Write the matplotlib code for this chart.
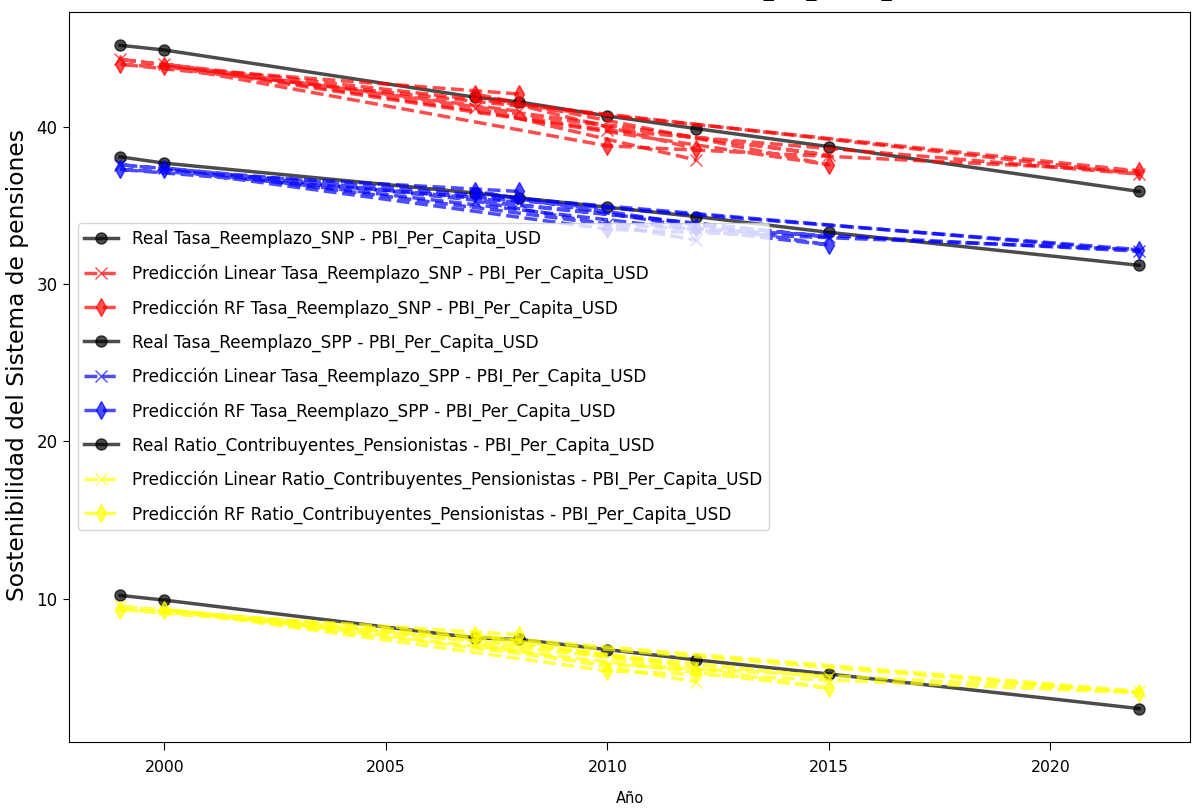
import numpy as np
import matplotlib.pyplot as plt

# años en el orden del set de prueba (sin ordenar)
anios = [2008, 1999, 2022, 2010, 2000, 2015, 2007, 2012]

# valores, mismo orden que anios
real_snp = [41.6, 45.2, 35.9, 40.7, 44.9, 38.75, 41.9, 39.9]
lin_snp = [41.0, 44.3, 37.0, 39.8, 44.0, 38.2, 41.2, 37.9]
rf_snp = [42.1, 44.0, 37.2, 38.8, 43.9, 37.6, 42.1, 38.6]

real_spp = [35.5, 38.1, 31.2, 34.9, 37.7, 33.3, 35.8, 34.3]
lin_spp = [35.2, 37.6, 32.1, 33.8, 37.4, 33.0, 35.3, 32.8]
rf_spp = [35.9, 37.3, 32.2, 33.5, 37.3, 32.5, 35.9, 33.6]

real_ratio = [7.4, 10.2, 3.0, 6.75, 9.9, 5.2, 7.5, 6.1]
lin_ratio = [7.0, 9.5, 4.1, 5.8, 9.3, 5.0, 7.1, 4.7]
rf_ratio = [7.7, 9.3, 4.0, 5.4, 9.3, 4.3, 7.7, 5.3]

targets = ['Tasa_Reemplazo_SNP', 'Tasa_Reemplazo_SPP', 'Ratio_Contribuyentes_Pensionistas']
feature = 'PBI_Per_Capita_USD'
colores = ['red', 'blue', 'yellow']

reales = [real_snp, real_spp, real_ratio]
lineales = [lin_snp, lin_spp, lin_ratio]
rfs = [rf_snp, rf_spp, rf_ratio]

fig = plt.figure(figsize=(11.93, 8.08), dpi=100)
ax = fig.add_axes([0.058, 0.082, 0.9395, 0.903])

real_orden = np.argsort(anios)
x = np.array(anios)

for t, c, yr, yl, yf in zip(targets, colores, reales, lineales, rfs):
    yr = np.array(yr)
    ax.plot(x[real_orden], yr[real_orden], marker='o', color='black', alpha=0.7,
            linewidth=2.5, markersize=8, label=f'Real {t} - {feature}')
    ax.plot(x, yl, marker='x', linestyle='--', color=c, alpha=0.7,
            linewidth=2.5, markersize=8, label=f'Predicción Linear {t} - {feature}')
    ax.plot(x, yf, marker='d', linestyle='--', color=c, alpha=0.7,
            linewidth=2.5, markersize=9, label=f'Predicción RF {t} - {feature}')

ax.tick_params(axis='x', labelsize=11.3, length=5.5, pad=8)
ax.tick_params(axis='y', labelsize=12, length=4.5, pad=4)
ax.set_xlabel('Año', fontsize=10.5, labelpad=11)
ax.set_ylabel('Sostenibilidad del Sistema de pensiones', fontsize=16.8)
ax.yaxis.set_label_coords(-0.036, 0.516)
ax.legend(loc='center left', fontsize=12.2, labelspacing=0.93)

# el titulo queda cortado arriba en la imagen original
fig.text(0.535, 1 + 4 / 808, 'Valores Reales y las Predicciones para ' + feature,
         fontsize=14.5, ha='center', va='baseline')

fig.savefig('out.png', dpi=100)
